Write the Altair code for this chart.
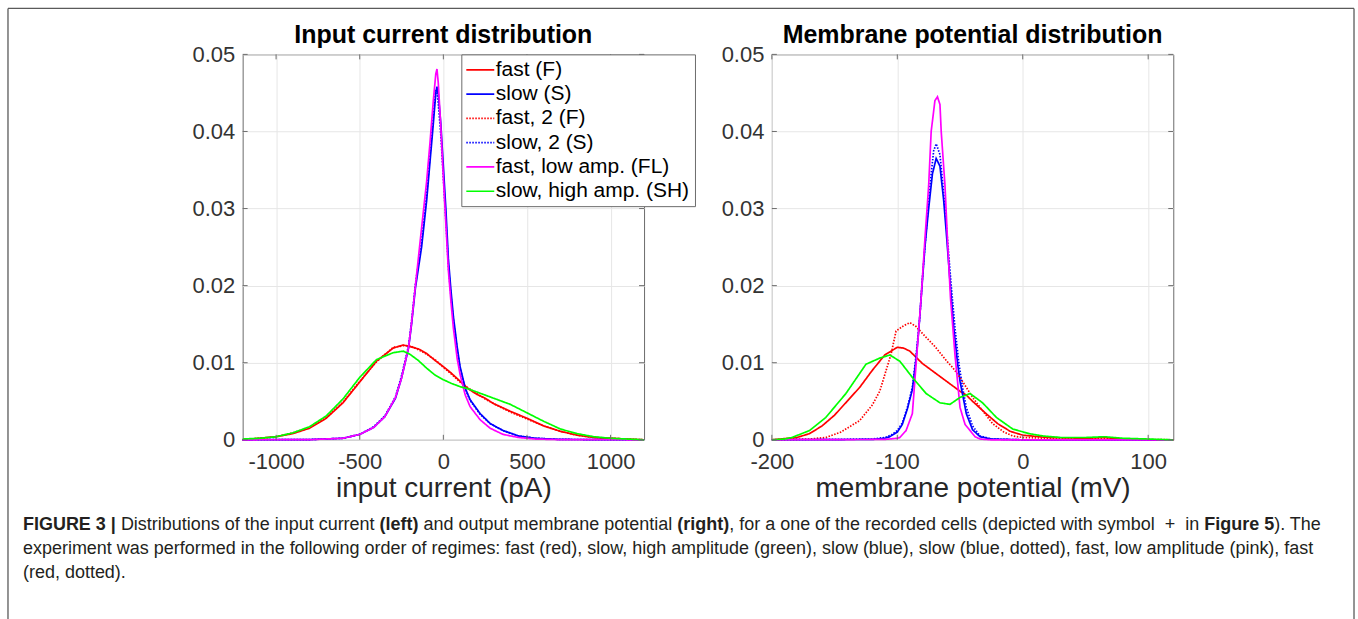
import altair as alt
import pandas as pd

# ---------------- series definitions ----------------
SERIES = ["fast (F)", "slow (S)", "fast, 2 (F)", "slow, 2 (S)",
          "fast, low amp. (FL)", "slow, high amp. (SH)"]
COLORS = ["#ff0000", "#0000ff", "#ff0000", "#0000ff", "#ff00ff", "#00ff00"]
DASHES = [[1, 0], [1, 0], [1.5, 1.5], [1.5, 1.5], [1, 0], [1, 0]]

# ---------------- left panel: input current (pA) ----------------
ic_wide_x = [-1200, -1100, -1000, -900, -800, -700, -600, -500, -400, -300, -240,
             -200, -150, -100, -50, 0, 50, 100, 150, 200, 250, 300, 400, 500, 600,
             700, 800, 900, 1000, 1100, 1200]
ic_fast_y = [0.0000, 0.0002, 0.0004, 0.0008, 0.0015, 0.0028, 0.0048, 0.0075, 0.0102,
             0.0119, 0.0123, 0.0121, 0.0118, 0.0112, 0.0103, 0.0095, 0.0086, 0.0076,
             0.0066, 0.0059, 0.0054, 0.0047, 0.0037, 0.0028, 0.0018, 0.0011, 0.0006,
             0.0003, 0.0002, 0.0001, 0.0000]
ic_fast2_y = [0.0000, 0.0002, 0.0004, 0.0009, 0.0016, 0.0029, 0.0049, 0.0076, 0.0101,
              0.0120, 0.0122, 0.0122, 0.0117, 0.0111, 0.0104, 0.0094, 0.0085, 0.0075,
              0.0067, 0.0060, 0.0053, 0.0047, 0.0036, 0.0027, 0.0018, 0.0011, 0.0006,
              0.0003, 0.0002, 0.0001, 0.0000]
ic_sh_y = [0.0001, 0.0002, 0.0004, 0.0009, 0.0017, 0.0031, 0.0053, 0.0081, 0.0104,
           0.0113, 0.0115, 0.0111, 0.0103, 0.0093, 0.0084, 0.0078, 0.0073, 0.0069,
           0.0066, 0.0062, 0.0058, 0.0054, 0.0046, 0.0035, 0.0024, 0.0014, 0.0008,
           0.0004, 0.0002, 0.0001, 0.0000]

ic_narrow_x = [-1200, -800, -600, -500, -417, -350, -286, -250, -208, -190, -167, -130,
               -100, -80, -60, -45, -38, -30, -15, 0, 15, 30, 45, 60, 83, 100, 131,
               160, 220, 280, 357, 450, 550, 700, 1200]
ic_slow_y = [0, 0.00003, 0.0002, 0.0007, 0.0016, 0.0030, 0.0054, 0.0080, 0.0119, 0.0150,
             0.0197, 0.0250, 0.0310, 0.0360, 0.0410, 0.0450, 0.0458, 0.0448, 0.0410,
             0.0355, 0.0300, 0.0235, 0.0195, 0.0160, 0.0120, 0.0095, 0.0067, 0.0052,
             0.0034, 0.0021, 0.0012, 0.0005, 0.0002, 0.00005, 0]
ic_slow2_y = [0, 0.00003, 0.0002, 0.0007, 0.0017, 0.0031, 0.0056, 0.0083, 0.0122, 0.0154,
              0.0202, 0.0257, 0.0318, 0.0368, 0.0420, 0.0455, 0.0452, 0.0435, 0.0395,
              0.0340, 0.0285, 0.0225, 0.0188, 0.0155, 0.0117, 0.0093, 0.0066, 0.0051,
              0.0033, 0.0021, 0.0012, 0.0005, 0.0002, 0.00005, 0]
ic_fl_y = [0, 0.00002, 0.0002, 0.0007, 0.0016, 0.0030, 0.0055, 0.0080, 0.0120, 0.0152,
           0.0200, 0.0275, 0.0335, 0.0385, 0.0440, 0.0475, 0.0481, 0.0462, 0.0405,
           0.0340, 0.0280, 0.0220, 0.0180, 0.0145, 0.0105, 0.0085, 0.0058, 0.0043,
           0.0026, 0.0015, 0.0007, 0.0003, 0.0001, 0.00002, 0]

# ---------------- right panel: membrane potential (mV) ----------------
mp_fast_x = [-200, -180, -170, -160, -150, -140, -130, -120, -110, -100, -95, -90, -85,
             -80, -70, -60, -50, -45, -40, -30, -20, -10, 0, 20, 50, 65, 80, 100, 120]
mp_fast_y = [0, 0.0003, 0.0008, 0.0018, 0.0032, 0.0050, 0.0068, 0.0090, 0.0110, 0.0120,
             0.0119, 0.0115, 0.0107, 0.0099, 0.0087, 0.0075, 0.0063, 0.0058, 0.0050,
             0.0035, 0.0021, 0.0011, 0.0006, 0.0003, 0.0002, 0.0003, 0.0001, 0, 0]
mp_fast2_x = [-200, -170, -157, -145, -130, -120, -114, -105, -101, -95, -90, -85, -80,
              -70, -60, -56, -50, -45, -40, -34, -24, -15, -8, 0, 20, 60, 80, 120]
mp_fast2_y = [0, 0.0001, 0.0003, 0.0010, 0.0025, 0.0045, 0.0063, 0.0111, 0.0141, 0.0148,
              0.0152, 0.0147, 0.0138, 0.0121, 0.0101, 0.0094, 0.0081, 0.0068, 0.0055,
              0.0042, 0.0021, 0.0010, 0.0005, 0.0003, 0.0002, 0.0002, 0.0001, 0]
mp_sh_x = [-200, -190, -184, -170, -157, -141, -125, -114, -106, -98, -88, -77, -66, -58,
           -50, -42, -32, -21, -8, 5, 16, 30, 50, 65, 80, 100, 120]
mp_sh_y = [0, 0.0001, 0.0003, 0.0012, 0.0029, 0.0060, 0.0098, 0.0106, 0.0110, 0.0102,
           0.0081, 0.0060, 0.0048, 0.0046, 0.0055, 0.0060, 0.0048, 0.0029, 0.0014, 0.0008,
           0.0005, 0.0003, 0.0003, 0.0004, 0.0002, 0.0001, 0]
mp_slow_x = [-200, -120, -110, -106, -100, -96, -92, -88, -85, -83, -80, -78, -75, -72,
             -69, -66, -63, -61, -58, -55, -52, -50, -45, -40, -34, -25, 0, 120]
mp_slow_y = [0, 0.00005, 0.0002, 0.0004, 0.0010, 0.0020, 0.0040, 0.0065, 0.0105, 0.0140,
             0.0206, 0.0250, 0.0300, 0.0345, 0.0365, 0.0355, 0.0310, 0.0270, 0.0206,
             0.0145, 0.0100, 0.0076, 0.0034, 0.0013, 0.0004, 0.0001, 0, 0]
mp_slow2_x = [-200, -120, -110, -105, -100, -96, -92, -88, -85, -82, -80, -77, -74, -71,
              -69, -66, -63, -60, -57, -54, -51, -48, -45, -40, -34, -25, 0, 120]
mp_slow2_y = [0, 0.0001, 0.0003, 0.0006, 0.0012, 0.0022, 0.0042, 0.0068, 0.0110, 0.0160,
              0.0210, 0.0270, 0.0330, 0.0375, 0.0384, 0.0370, 0.0320, 0.0260, 0.0200,
              0.0145, 0.0100, 0.0068, 0.0042, 0.0018, 0.0005, 0.0001, 0, 0]
mp_fl_x = [-200, -110, -100, -98, -93, -88, -84, -81, -78, -75, -73, -70, -68, -66, -65,
           -62, -60, -57.6, -54, -50, -46, -42, -38, -34, -25, 120]
mp_fl_y = [0, 0.00005, 0.0002, 0.0003, 0.0012, 0.0034, 0.0120, 0.0184, 0.0260, 0.0330,
           0.0400, 0.0440, 0.0445, 0.0435, 0.0400, 0.0330, 0.0260, 0.0184, 0.0110, 0.0042,
           0.0020, 0.0012, 0.0004, 0.0001, 0, 0]

Y_TICKS = [0, 0.01, 0.02, 0.03, 0.04, 0.05]
IC_TICKS = [-1000, -500, 0, 500, 1000]
MP_TICKS = [-200, -100, 0, 100]

CAPTION_LINES = [
    [("FIGURE 3 |", True), (" Distributions of the input current ", False), ("(left)", True),
     (" and output membrane potential ", False), ("(right)", True),
     (", for a one of the recorded cells (depicted with symbol", False),
     ("  +  ", False), ("in ", False),
     ("Figure 5", True), ("). The", False)],
    [("experiment was performed in the following order of regimes: fast (red), slow, high "
      "amplitude (green), slow (blue), slow (blue, dotted), fast, low amplitude (pink), fast",
      False)],
    [("(red, dotted).", False)],
]

FONT = "Liberation Sans"
AXIS_GRAY = "#6b6b6b"


def frame(parts):
    rows = []
    for name, xs, ys in parts:
        for x, y in zip(xs, ys):
            rows.append({"x": x, "y": y, "series": name})
    return pd.DataFrame(rows)


ic_df = frame([
    (SERIES[0], ic_wide_x, ic_fast_y),
    (SERIES[1], ic_narrow_x, ic_slow_y),
    (SERIES[2], ic_wide_x, ic_fast2_y),
    (SERIES[3], ic_narrow_x, ic_slow2_y),
    (SERIES[4], ic_narrow_x, ic_fl_y),
    (SERIES[5], ic_wide_x, ic_sh_y),
])
mp_df = frame([
    (SERIES[0], mp_fast_x, mp_fast_y),
    (SERIES[1], mp_slow_x, mp_slow_y),
    (SERIES[2], mp_fast2_x, mp_fast2_y),
    (SERIES[3], mp_slow2_x, mp_slow2_y),
    (SERIES[4], mp_fl_x, mp_fl_y),
    (SERIES[5], mp_sh_x, mp_sh_y),
])

PLOT_W, PLOT_H = 402, 386
PLOT_TOP = 53
TICK_LEN = 5


def panel(df, title, xtitle, domain, ticks, with_legend):
    if with_legend:
        leg = alt.Legend(title=None, orient="none", legendX=219, legendY=0,
                         direction="vertical", labelFont=FONT, labelFontSize=21,
                         labelColor="black", labelOffset=5, labelLimit=400,
                         symbolType="M-2,0H2", symbolSize=196, symbolStrokeWidth=1.6,
                         symbolOffset=3.5, padding=5, rowPadding=2.3,
                         strokeColor=AXIS_GRAY, fillColor="white")
    else:
        leg = None
    xscale = alt.Scale(domain=domain, nice=False, zero=False)
    yscale = alt.Scale(domain=[0, 0.05], nice=False)
    xaxis = alt.Axis(values=ticks, title=xtitle, labelExpr="'' + datum.value",
                     labelFlush=False, labelOverlap=False, labelPadding=12, titlePadding=2)
    yaxis = alt.Axis(values=Y_TICKS, title=None, labelExpr="'' + datum.value",
                     labelOverlap=False, labelFlush=False, labelPadding=8)
    lines = alt.Chart(df).mark_line(strokeWidth=1.7).encode(
        x=alt.X("x:Q", scale=xscale, axis=xaxis),
        y=alt.Y("y:Q", scale=yscale, axis=yaxis),
        color=alt.Color("series:N", scale=alt.Scale(domain=SERIES, range=COLORS),
                        sort=SERIES, legend=leg),
        strokeDash=alt.StrokeDash("series:N", scale=alt.Scale(domain=SERIES, range=DASHES),
                                  sort=SERIES, legend=leg),
    )
    xt = pd.DataFrame({"v": ticks})
    yt = pd.DataFrame({"v": Y_TICKS})
    tick_style = dict(color=AXIS_GRAY, strokeWidth=1)
    xb = alt.Chart(xt).mark_rule(**tick_style).encode(
        x=alt.X("v:Q", scale=xscale, axis=xaxis),
        y=alt.value(PLOT_H), y2=alt.value(PLOT_H - TICK_LEN))
    xtop = alt.Chart(xt).mark_rule(**tick_style).encode(
        x=alt.X("v:Q", scale=xscale, axis=xaxis),
        y=alt.value(0), y2=alt.value(TICK_LEN))
    yl = alt.Chart(yt).mark_rule(**tick_style).encode(
        y=alt.Y("v:Q", scale=yscale, axis=yaxis),
        x=alt.value(0), x2=alt.value(TICK_LEN))
    yr = alt.Chart(yt).mark_rule(**tick_style).encode(
        y=alt.Y("v:Q", scale=yscale, axis=yaxis),
        x=alt.value(PLOT_W - TICK_LEN), x2=alt.value(PLOT_W))
    return alt.layer(lines, xb, xtop, yl, yr).properties(
        width=PLOT_W, height=PLOT_H,
        title=alt.TitleParams(title, font=FONT, fontSize=25, fontWeight="bold",
                              color="black", anchor="middle", offset=-5),
        view=alt.ViewBackground(stroke=AXIS_GRAY, strokeWidth=1),
    )


left = panel(ic_df, "Input current distribution", "input current (pA)",
             [-1200, 1200], IC_TICKS, True)
right = panel(mp_df, "Membrane potential distribution", "membrane potential (mV)",
              [-200, 120], MP_TICKS, False)

# ---------------- caption layout (Helvetica/Arial advance widths) ----------------
HR = {}
HB = {}
_p = " !\"#$%&'()*+,-./"
for c, a, b in zip(_p, [278, 278, 355, 556, 556, 889, 667, 191, 333, 333, 389, 584, 278, 333, 278, 278],
                   [278, 333, 474, 556, 556, 889, 722, 238, 333, 333, 389, 584, 278, 333, 278, 278]):
    HR[c], HB[c] = a, b
for c in "0123456789":
    HR[c], HB[c] = 556, 556
for c, a, b in zip(":;<=>?@", [278, 278, 584, 584, 584, 556, 1015], [333, 333, 584, 584, 584, 611, 975]):
    HR[c], HB[c] = a, b
for c, a, b in zip("ABCDEFGHIJKLMNOPQRSTUVWXYZ",
                   [667, 667, 722, 722, 667, 611, 778, 722, 278, 500, 667, 556, 833, 722, 778, 667, 778, 722, 667, 611, 722, 667, 944, 667, 667, 611],
                   [722, 722, 722, 722, 667, 611, 778, 722, 278, 556, 722, 611, 833, 722, 778, 667, 778, 722, 667, 611, 722, 667, 944, 667, 667, 611]):
    HR[c], HB[c] = a, b
for c, a, b in zip("abcdefghijklmnopqrstuvwxyz",
                   [556, 556, 500, 556, 556, 278, 556, 556, 222, 222, 500, 222, 833, 556, 556, 556, 556, 333, 500, 278, 556, 500, 722, 500, 500, 500],
                   [556, 611, 556, 611, 556, 333, 611, 611, 278, 278, 556, 278, 889, 611, 611, 611, 611, 389, 556, 333, 611, 556, 778, 556, 556, 500]):
    HR[c], HB[c] = a, b
for c, a, b in zip("[\\]^_`{|}~", [278, 278, 278, 469, 556, 333, 334, 260, 334, 584],
                   [333, 278, 333, 584, 556, 333, 389, 280, 389, 584]):
    HR[c], HB[c] = a, b

CAP_SIZE = 18
ORIGIN_X, ORIGIN_Y = 242, 500          # caption view origin on the page
CAP_LEFT = 22
CAP_BASELINES = [529, 553, 577]


def tw(s, bold):
    t = HB if bold else HR
    return sum(t.get(ch, 556) for ch in s) * CAP_SIZE / 1000.0


reg_rows, bold_rows = [], []
for line, base in zip(CAPTION_LINES, CAP_BASELINES):
    cur = CAP_LEFT
    for text, bold in line:
        lead = len(text) - len(text.lstrip(" "))
        cur += tw(" " * lead, bold)
        core = text.strip(" ")
        (bold_rows if bold else reg_rows).append(
            {"t": core, "px": cur - ORIGIN_X, "py": base - ORIGIN_Y})
        cur += tw(core, bold)
        trail = len(text) - len(text.rstrip(" "))
        cur += tw(" " * trail, bold)

cap_reg = alt.Chart(pd.DataFrame(reg_rows)).mark_text(
    align="left", baseline="alphabetic", font=FONT, fontSize=CAP_SIZE, color="#231f20"
).encode(x=alt.X("px:Q", scale=None, axis=None), y=alt.Y("py:Q", scale=None, axis=None),
         text="t:N")
cap_bold = alt.Chart(pd.DataFrame(bold_rows)).mark_text(
    align="left", baseline="alphabetic", font=FONT, fontSize=CAP_SIZE, fontWeight="bold",
    color="#231f20"
).encode(x=alt.X("px:Q", scale=None, axis=None), y=alt.Y("py:Q", scale=None, axis=None),
         text="t:N")

one = pd.DataFrame({"k": [0]})
BOX_L, BOX_R, BOX_T, BOX_B = 7, 1355, 7, 619
bstyle = dict(color="#5a5a5a", strokeWidth=1.3)
b_top = alt.Chart(one).mark_rule(**bstyle).encode(
    x=alt.value(BOX_L - ORIGIN_X), x2=alt.value(BOX_R - ORIGIN_X),
    y=alt.value(BOX_T - ORIGIN_Y), y2=alt.value(BOX_T - ORIGIN_Y))
b_left = alt.Chart(one).mark_rule(**bstyle).encode(
    x=alt.value(BOX_L - ORIGIN_X), x2=alt.value(BOX_L - ORIGIN_X),
    y=alt.value(BOX_T - ORIGIN_Y), y2=alt.value(BOX_B - ORIGIN_Y))
b_right = alt.Chart(one).mark_rule(**bstyle).encode(
    x=alt.value(BOX_R - ORIGIN_X), x2=alt.value(BOX_R - ORIGIN_X),
    y=alt.value(BOX_T - ORIGIN_Y), y2=alt.value(BOX_B - ORIGIN_Y))

caption = alt.layer(cap_reg, cap_bold, b_top, b_left, b_right).properties(
    width=931, height=BOX_B - ORIGIN_Y, view=alt.ViewBackground(strokeWidth=0))

plots = alt.hconcat(left, right, spacing=128, bounds="flush").resolve_scale(
    color="independent", strokeDash="independent").resolve_legend(
    color="independent", strokeDash="independent")

chart = alt.vconcat(plots, caption, spacing=ORIGIN_Y - PLOT_TOP,
                    bounds="flush").properties(
    padding={"left": 7, "top": 7, "right": 3, "bottom": 0}, background="white"
).configure_axis(
    labelFont=FONT, labelFontSize=22, labelColor="#333333",
    titleFont=FONT, titleFontSize=28, titleColor="#262626", titleFontWeight="normal",
    grid=True, gridColor="#e6e6e6", gridWidth=1, domain=False, ticks=False, tickSize=0
).configure_view(stroke="transparent")

chart.save("out.html", embed_options={"renderer": "svg", "actions": False})
